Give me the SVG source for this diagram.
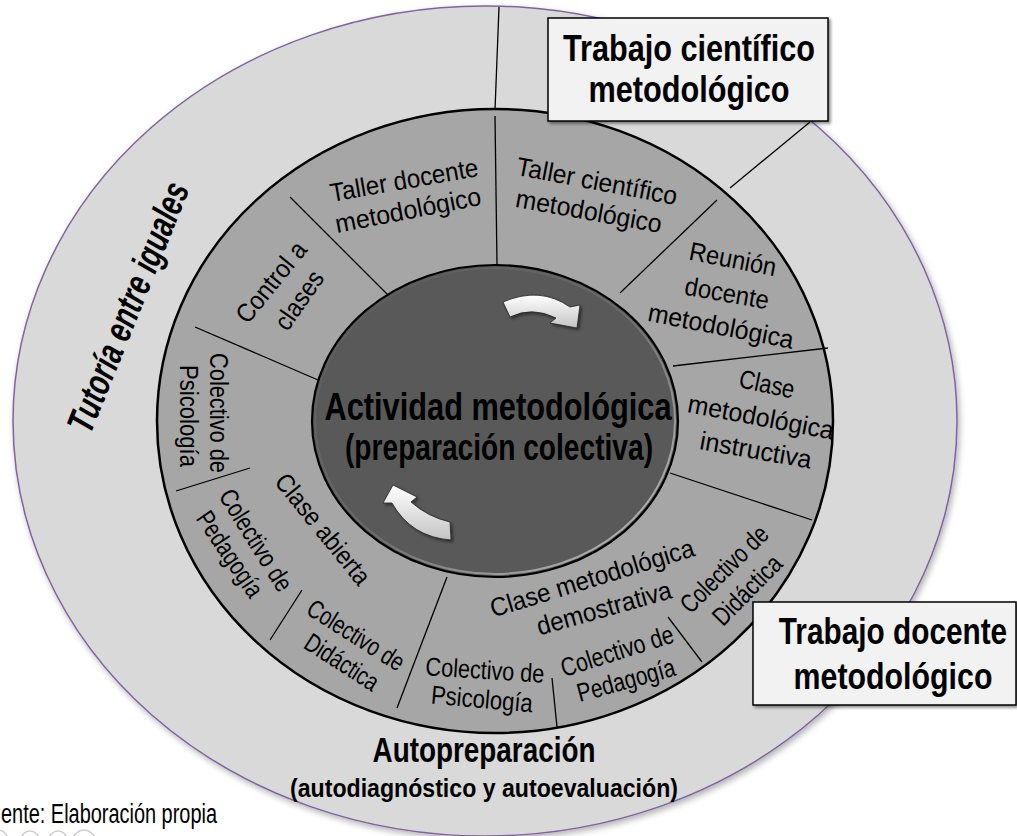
<svg xmlns="http://www.w3.org/2000/svg" width="1017" height="836" viewBox="0 0 1017 836">
<defs>
<style>
text{font-family:"Liberation Sans",Arial,sans-serif;fill:#000}
.lbl{font-size:26px;text-anchor:middle;dominant-baseline:central}
.big{font-weight:bold;text-anchor:middle}
.div{stroke:#000;stroke-width:1.3;fill:none}
.box{fill:#f2f2f2;stroke:#000;stroke-width:1.5}
.arrow{fill:url(#arrowGrad);stroke:#222;stroke-width:0.8}
</style>
<linearGradient id="arrowGrad" x1="0" y1="0" x2="0" y2="1">
<stop offset="0" stop-color="#ffffff"/>
<stop offset="1" stop-color="#c4c4c4"/>
</linearGradient>
<linearGradient id="rim" x1="0" y1="0" x2="1" y2="1">
<stop offset="0" stop-color="#595959"/>
<stop offset="0.5" stop-color="#6a6a6a"/>
<stop offset="1" stop-color="#c8c8c8"/>
</linearGradient>
<filter id="shadow" x="-10%" y="-10%" width="130%" height="130%">
<feDropShadow dx="2" dy="2" stdDeviation="1.5" flood-color="#000" flood-opacity="0.45"/>
</filter>
<filter id="softShadow" x="-5%" y="-5%" width="110%" height="110%">
<feDropShadow dx="2" dy="3" stdDeviation="3" flood-color="#000" flood-opacity="0.3"/>
</filter>
</defs>
<rect width="1017" height="836" fill="#ffffff"/>

<g id="outer-ring">
<ellipse cx="485" cy="421" rx="472" ry="415" fill="#d9d9d9" stroke="#7f63a1" stroke-width="1.5" filter="url(#softShadow)"/>
</g>

<g id="connectors">
<line class="div" x1="499" y1="7" x2="495" y2="110"/>
<line class="div" x1="730" y1="188" x2="810" y2="122"/>
</g>

<g id="middle-ring">
<ellipse cx="495" cy="421" rx="338" ry="312" fill="#a6a6a6" stroke="#000" stroke-width="2.5"/>
</g>

<g id="ring-dividers">
<line class="div" x1="388" y1="295" x2="290" y2="197"/>
<line class="div" x1="325" y1="383" x2="195" y2="327"/>
<line class="div" x1="497" y1="265" x2="495" y2="116"/>
<line class="div" x1="620" y1="293" x2="717" y2="200"/>
<line class="div" x1="673" y1="366" x2="828" y2="348"/>
<line class="div" x1="670" y1="473" x2="812" y2="520"/>
<line class="div" x1="447" y1="577" x2="397" y2="708"/>
<line class="div" x1="668" y1="617" x2="702" y2="662"/>
<line class="div" x1="552" y1="678" x2="557" y2="727"/>
<line class="div" x1="302" y1="590" x2="270" y2="640"/>
<line class="div" x1="176" y1="491" x2="250" y2="468"/>
</g>

<g id="inner-circle">
<ellipse cx="495" cy="421" rx="183" ry="156" fill="#595959" stroke="#000" stroke-width="2.2"/>
<ellipse cx="495" cy="421" rx="180" ry="153" fill="none" stroke="url(#rim)" stroke-width="2"/>
<text class="big" x="498" y="420" font-size="39" textLength="347" lengthAdjust="spacingAndGlyphs">Actividad metodológica</text>
<text class="big" x="499" y="460" font-size="36" textLength="308" lengthAdjust="spacingAndGlyphs">(preparación colectiva)</text>
</g>

<g id="cycle-arrows" filter="url(#shadow)">
<path class="arrow" d="M503,302 Q540,286 570,307 L580,305 L577,328 L550,323 L556,318 Q532,306 510,317 Z"/>
<path class="arrow" d="M393,485 L417,497 L411,502 Q428,517 450,522 L451,540 Q411,537 392,503 L383,503 Z"/>
</g>

<g id="node-taller-docente">
<text class="lbl" transform="translate(404,180) rotate(-10)" textLength="150" lengthAdjust="spacingAndGlyphs">Taller docente</text>
<text class="lbl" transform="translate(408,210) rotate(-11)" textLength="148" lengthAdjust="spacingAndGlyphs">metodológico</text>
</g>

<g id="node-control-clases">
<text class="lbl" transform="translate(271,282) rotate(-51)" textLength="96" lengthAdjust="spacingAndGlyphs">Control a</text>
<text class="lbl" transform="translate(299,300) rotate(-55)" textLength="66" lengthAdjust="spacingAndGlyphs">clases</text>
</g>

<g id="node-colectivo-psicologia-1">
<text class="lbl" transform="translate(219,413) rotate(90)" textLength="120" lengthAdjust="spacingAndGlyphs">Colectivo de</text>
<text class="lbl" transform="translate(189,416) rotate(90)" textLength="102" lengthAdjust="spacingAndGlyphs">Psicología</text>
</g>

<g id="node-clase-abierta">
<text class="lbl" transform="translate(323,529) rotate(51)" textLength="135" lengthAdjust="spacingAndGlyphs">Clase abierta</text>
</g>

<g id="node-colectivo-pedagogia-1">
<text class="lbl" transform="translate(256,540) rotate(58)" textLength="115" lengthAdjust="spacingAndGlyphs">Colectivo de</text>
<text class="lbl" transform="translate(230,554) rotate(56)" textLength="98" lengthAdjust="spacingAndGlyphs">Pedagogía</text>
</g>

<g id="node-colectivo-didactica-1">
<text class="lbl" transform="translate(356,635) rotate(32.4)" textLength="110" lengthAdjust="spacingAndGlyphs">Colectivo de</text>
<text class="lbl" transform="translate(342,662) rotate(32.7)" textLength="83" lengthAdjust="spacingAndGlyphs">Didáctica</text>
</g>

<g id="node-clase-demostrativa">
<text class="lbl" transform="translate(592,578) rotate(-17)" textLength="212" lengthAdjust="spacingAndGlyphs">Clase metodológica</text>
<text class="lbl" transform="translate(604,608) rotate(-15.7)" textLength="139" lengthAdjust="spacingAndGlyphs">demostrativa</text>
</g>

<g id="node-colectivo-psicologia-2">
<text class="lbl" transform="translate(485,670) rotate(3.6)" textLength="119" lengthAdjust="spacingAndGlyphs">Colectivo de</text>
<text class="lbl" transform="translate(482,699) rotate(5)" textLength="102" lengthAdjust="spacingAndGlyphs">Psicología</text>
</g>

<g id="node-colectivo-pedagogia-2">
<text class="lbl" transform="translate(617,651) rotate(-17.6)" textLength="117" lengthAdjust="spacingAndGlyphs">Colectivo de</text>
<text class="lbl" transform="translate(626,680) rotate(-15.4)" textLength="101" lengthAdjust="spacingAndGlyphs">Pedagogía</text>
</g>

<g id="node-colectivo-didactica-2">
<text class="lbl" transform="translate(724,569) rotate(-44.6)" textLength="112" lengthAdjust="spacingAndGlyphs">Colectivo de</text>
<text class="lbl" transform="translate(747,590) rotate(-45.5)" textLength="87" lengthAdjust="spacingAndGlyphs">Didáctica</text>
</g>

<g id="node-reunion">
<text class="lbl" transform="translate(733,259) rotate(11)" textLength="88" lengthAdjust="spacingAndGlyphs">Reunión</text>
<text class="lbl" transform="translate(727,293) rotate(10)" textLength="85" lengthAdjust="spacingAndGlyphs">docente</text>
<text class="lbl" transform="translate(721,326) rotate(10.9)" textLength="148" lengthAdjust="spacingAndGlyphs">metodológica</text>
</g>

<g id="node-clase-instructiva">
<text class="lbl" transform="translate(767,384) rotate(12)" textLength="56" lengthAdjust="spacingAndGlyphs">Clase</text>
<text class="lbl" transform="translate(761,417) rotate(10.8)" textLength="148" lengthAdjust="spacingAndGlyphs">metodológica</text>
<text class="lbl" transform="translate(756,450) rotate(10)" textLength="113" lengthAdjust="spacingAndGlyphs">instructiva</text>
</g>

<g id="node-taller-cientifico">
<text class="lbl" transform="translate(597,181) rotate(10.7)" textLength="163" lengthAdjust="spacingAndGlyphs">Taller científico</text>
<text class="lbl" transform="translate(589,211) rotate(10.2)" textLength="148" lengthAdjust="spacingAndGlyphs">metodológico</text>
</g>

<g id="node-tutoria">
<text font-size="38" font-weight="bold" font-style="italic" text-anchor="middle" dominant-baseline="central" transform="translate(128,307) rotate(-68)" textLength="266" lengthAdjust="spacingAndGlyphs">Tutoría entre iguales</text>
</g>

<g id="node-trabajo-cientifico">
<rect class="box" x="548" y="18" width="280" height="103" filter="url(#shadow)"/>
<text class="big" x="689" y="61" font-size="37" textLength="252" lengthAdjust="spacingAndGlyphs">Trabajo científico</text>
<text class="big" x="689" y="102" font-size="37" textLength="201" lengthAdjust="spacingAndGlyphs">metodológico</text>
</g>

<g id="node-trabajo-docente">
<rect class="box" x="753" y="602" width="263" height="103" filter="url(#shadow)"/>
<text class="big" transform="translate(893,644) scale(0.805,1)" font-size="37">Trabajo docente</text>
<text class="big" transform="translate(893,689) scale(0.82,1)" font-size="37">metodológico</text>
</g>

<g id="node-autopreparacion">
<text class="big" x="484" y="762" font-size="35" textLength="223" lengthAdjust="spacingAndGlyphs">Autopreparación</text>
<text class="big" x="484" y="797" font-size="26" textLength="388" lengthAdjust="spacingAndGlyphs">(autodiagnóstico y autoevaluación)</text>
</g>

<g id="caption">
<text x="1" y="823" font-size="27" textLength="216" lengthAdjust="spacingAndGlyphs">ente: Elaboración propia</text>
<g fill="none" stroke="#d0d0d0" stroke-width="1.5">
<circle cx="-2" cy="840" r="10"/>
<circle cx="30" cy="840" r="9"/>
<circle cx="58" cy="840" r="9"/>
<circle cx="84" cy="841" r="11"/>
</g>
</g>
</svg>
